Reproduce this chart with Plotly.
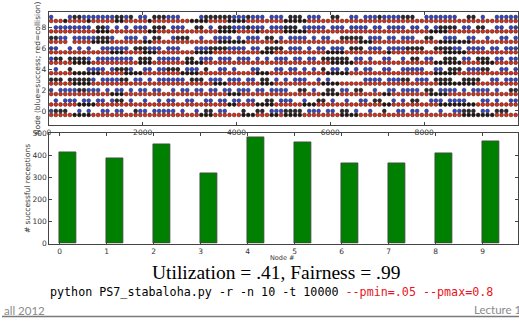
import plotly.graph_objects as go

W, H = 519, 323

# ---- data ----
# time steps per cell in the activity strings
CELL = 100
SEG = 2500
NODES = list(range(10))
# success rows (b = success dot, k = dense/overlapping dots, . = none), 4 segments of 2500 steps each
SUCCESS_ROWS = {
    9: ["b...bkkbbbbbbbkkbk.bb.kkk", "bbb....bkkkkkkbbbkbbb.bbb", ".kkk.bbb..kk..bb.bbbkbbbb", "kkk..bbbbbbb..kk.b..bbbbb"],
    8: [".bbbbbbbb.kkb.b.b.bbb.kkk", ".bbb..kk.b.kkkbbbkbbb.bbb", "kkk.bbbbb.bbb.bbbb.bb.bbb", "b.bb.b.bkkkk.bb.kk..bb.bb"],
    7: ["kkbb.bbbbbkkkb..bbb.b.kk.", ".bkkk..b..bbbb.b.bbb.kk.b", ".bbbb.b.bb..kkkkk.bbb.bb.", "bbb..kk..bbb..bb..b..bb.b"],
    6: ["bb..b.b.b..bbbbbb.kkkbbb.", "bbb...bbbkkkkbbbb.bb.kkkk", ".bbb.b.bb.bbb.kkk.bbb.bbb", "bkkkk..kkkkbb.bbbb.bb.bbb"],
    5: ["bkk.kkkkb.bbbbbbbb.kkk.bb", "bbb.kk.bbb.bbb.bbb.b.b.bb", "b.bb.bb.kkkkkk.bb.b..bb..", "b.kk.bb..kkk.bb.kkk.bb.bb"],
    4: [".b..k...bbbb.bkkkb..bb.bb", "kkk.bbb.k..bb.b...bb...bb", ".bb.b.b.k.bb.b.b.bb..bb..", "bbbbb..bb.kkk.bbbkk..bb.b"],
    3: ["kkk.kkkkkb.bbbbkk.bb.b.bb", "bbbb.kkk.bbb.bbb.bb.kk.b.", "b.bbb..b.b.......bbbb.bbb", "kk.bbb.kkkk..kkkk..bb.bbb"],
    2: ["b.bbbbkkbbb.b.bb.b.bb.bb.", ".b.bb.bb.bb.bb.bbb.bb.bbb", "b..kk.b..kk.bb.kk..b..bb.", "bbbb.kk.bbbb.b.bbbb.b..kk"],
    1: [".b.bbb.bb.bb.bkk.b..b..b.", "bb..bb..bb.bb.bb.bb..kk.b", "bb..b..kk.b..b..bb.kk..b.", "b.kk..bbb.bbbb...bb.b..bb"],
    0: ["bkkk..b.b..bb.bb..kbb.bbb", "bb.b..b.kk.bb...k..kk.bbb", "kkkk.bbb.bb.kk.b..b..k..b", "b.bb.b..b..bbkkk.bb.kkk.."],
}
# collision rows (r = collision dot, k = dense/overlapping dots)
COLLISION_ROWS = {
    9: ["rrrkrrrrkrrrrrkkrrrrrkrrr", "rrrrrkkkkrrrrkkkkrrrrrrrr", "kkkkkrrrrrrrrrrrrrrrrrrrr", "rrrrrrrrrrrrrrrrrrrrrrrrr"],
    8: ["rrrrrrrrrrkkkrrrrrrrrkkrr", "rrrrrrrrrrrkkkkrrrrkrrrrr", "kkkkkrrrrrrrrrrrrrrrrrrrr", "rrrrrrkkkkrrrrrrrrrrrrrrr"],
    7: ["rrrr.rrrrkkkkrrrrrrrkkrrr", "rrrrrrrrrrrkkkkkkrrrrrrkr", "rrrrrrrrrrrrrrrrkkkrrrrrr", "rrrrrrrrkkkkkkkrrrrrrrrrr"],
    6: ["rrrrrrrrrrrrrkkkrrrrkkkrr", "rrrrrrkkkkrrrrrrrrrrkkkrr", "rrrrrrrrrkkkkrrrrrrrrrkrr", "rrrrrrrrrkkkkkrrrrrrrrrrr"],
    5: ["rrrrrkkkkrrrrrrrrrrkkkrrr", "rrrrkkkkrrrrrrrrrrrrrrrrr", "rrrrrrrrrrkkkkkrrrrrrrrrr", "rrrrrrrkkkkkkrrrrkkkrrrrr"],
    4: ["rrrrrkkkkkkrrrrrkkkkrrrrr", "rrrkkkkrrrrrrrrrrrrkkkrrr", "rrrrrrrrrkkkkkrrrrrrrrrrr", "rrrrrrrkkkkkrrrrrrrrrrrrr"],
    3: ["rrrrrkkkkrrrrrrrrrrrrrrrr", "rrrrrrrrrrkkkrrrrrrrkkkrr", "rrrrrrrrkkkkrrrrrrrrrrrrr", "rrrrrrrrkkkkkkkkrrrrrrrrr"],
    2: ["rrrrrrrrrrrrrkkkrrrrrrrrr", "rrrrrrrrrrrrrkkkrrrrrrrrr", "rrrrrrrrkkkkrrrrrrrrrkkrr", "rrrrrrkkkkrrrrrrrrrrrrrrr"],
    1: ["rrrrrrkkkkrrrrrrrrrrrrrrr", "rrrrrrrrrrrrrkkrrrrkkkkrr", "rrrrkkkrrrrrrrrrrrrrrkkrr", "rrrrrrrrkkkkkkkkrrrrrrrrr"],
    0: ["rrrrrkkkkrrrrrrrrrrrrrrrr", "rrrrrrrkkkrrrrrrkkkrrrkkr", "kkkkrrrrrrrrkkkkrrrrrrrrr", "rrrrrrrrrrrrrkkkkkkkrrrrr"],
}
SUCCESS_COUNTS = [413, 385, 451, 317, 482, 459, 364, 365, 408, 463]
TIME_TICKS = [0, 2000, 4000, 6000, 8000, 10000]
NODE_TICKS = [0, 2, 4, 6, 8]
COUNT_TICKS = [0, 100, 200, 300, 400, 500]
TITLE = "Utilization = .41, Fairness = .99"
CMD_BLACK = "python PS7_stabaloha.py -r -n 10 -t 10000 "
CMD_RED = "--pmin=.05 --pmax=0.8"

COLL_OFFSET = 0.38


def collect(rows, char, yoff):
    xs, ys = [], []
    for node, segs in rows.items():
        for s, seg in enumerate(segs):
            for i, c in enumerate(seg):
                if c == char:
                    xs.append(s * SEG + i * CELL + CELL / 2)
                    ys.append(node - yoff)
    return xs, ys


fig = go.Figure()

for rows, char, yoff, col, edge in [
    (COLLISION_ROWS, "r", COLL_OFFSET, "#d8301a", "#3a1008"),
    (COLLISION_ROWS, "k", COLL_OFFSET, "#2a1510", "#000"),
    (SUCCESS_ROWS, "b", 0, "#2d45d8", "#222"),
    (SUCCESS_ROWS, "k", 0, "#2a2a35", "#000"),
]:
    xs, ys = collect(rows, char, yoff)
    fig.add_trace(go.Scatter(
        x=xs, y=ys, mode="markers", xaxis="x", yaxis="y",
        marker=dict(size=3.8, color=col, line=dict(color=edge, width=0.5)),
        showlegend=False, hoverinfo="skip"))

fig.add_trace(go.Bar(
    x=NODES, y=SUCCESS_COUNTS, xaxis="x2", yaxis="y2",
    width=0.35, offset=0, marker=dict(color="#008000", line=dict(color="#444", width=0.8)),
    showlegend=False, hoverinfo="skip"))


def px_x(p):
    return p / W


def px_y(p):
    return 1 - p / H


axis_common = dict(showgrid=False, zeroline=False, showline=True, mirror="ticks",
                   linecolor="#444", linewidth=1, ticks="inside", ticklen=3,
                   tickcolor="#444", tickfont=dict(family="DejaVu Sans", size=7.5, color="#333"))

fig.update_layout(
    width=W, height=H, margin=dict(l=0, r=0, t=0, b=0),
    paper_bgcolor="white", plot_bgcolor="white",
    xaxis=dict(domain=[px_x(47), px_x(518)], anchor="y", range=[0, 10000],
               tickvals=TIME_TICKS, **axis_common),
    yaxis=dict(domain=[px_y(124), px_y(8)], anchor="x", range=[-1.3, 9.5],
               tickvals=NODE_TICKS, **axis_common),
    xaxis2=dict(domain=[px_x(47.5), px_x(518)], anchor="y2", range=[-0.22, 9.75],
                tickvals=list(range(10)), **axis_common),
    yaxis2=dict(domain=[px_y(246.5), px_y(133)], anchor="x2", range=[0, 500],
                tickvals=COUNT_TICKS, **axis_common),
    bargap=0,
)

ann = [
    dict(text="Node (blue=success; red=collision)", x=px_x(35), y=px_y(66), textangle=-90,
         font=dict(family="DejaVu Sans", size=7.5, color="#333")),
    dict(text="# successful receptions", x=px_x(25.5), y=px_y(190), textangle=-90,
         font=dict(family="DejaVu Sans", size=7.5, color="#333")),
    dict(text="Node #", x=px_x(281), y=px_y(261),
         font=dict(family="DejaVu Sans", size=6.5, color="#333")),
    dict(text=TITLE, x=px_x(275), y=px_y(276.5),
         font=dict(family="Liberation Serif", size=19.5, color="#000")),
    dict(text=CMD_BLACK + '<span style="color:#e8141e">' + CMD_RED + "</span>",
         x=px_x(270.5), y=px_y(296),
         font=dict(family="DejaVu Sans Mono", size=11.7, color="#000")),
    dict(text="all 2012", x=0, xanchor="left", y=px_y(315),
         font=dict(family="Lato", size=11.5, color="#8a8a8a")),
    dict(text="Lecture 1", x=px_x(472), xanchor="left", y=px_y(314),
         font=dict(family="Lato", size=11.5, color="#8a8a8a")),
]
for a in ann:
    a.update(xref="paper", yref="paper", showarrow=False)
    a.setdefault("xanchor", "center")
    a.setdefault("yanchor", "middle")
fig.update_layout(annotations=ann)

fig.add_shape(type="line", xref="paper", yref="paper", x0=0, x1=1,
              y0=px_y(321.5), y1=px_y(321.5), line=dict(color="#7a7a7a", width=1.5))

fig.write_html("out.html", config={"displayModeBar": False},
               post_script="document.body.style.margin='0';document.body.style.overflow='hidden';")
